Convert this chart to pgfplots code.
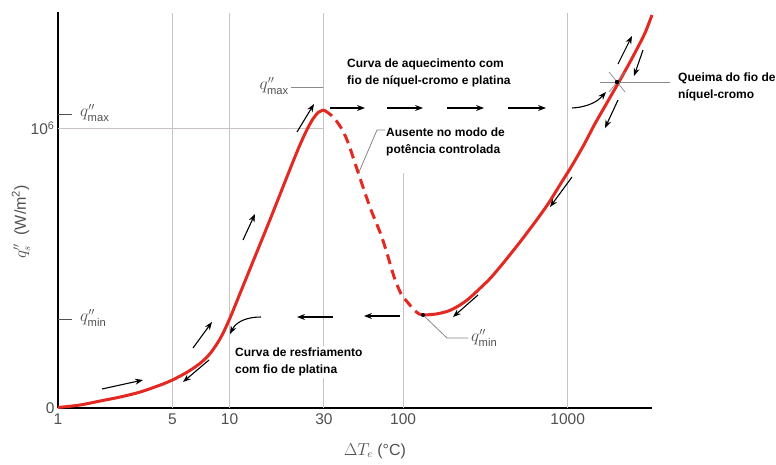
\documentclass[border=0pt]{standalone}
\usepackage{amsmath}
\usepackage{fontspec}
\setmainfont{Liberation Sans}
\usepackage{pgfplots}
\pgfplotsset{compat=1.18}
\usetikzlibrary{arrows.meta}
\definecolor{curvered}{RGB}{226,42,34}
\definecolor{gridgray}{RGB}{200,194,194}
\definecolor{labgray}{RGB}{80,80,80}
\begin{document}
\begin{tikzpicture}
\useasboundingbox (0,0) rectangle (776pt,-465pt);
\begin{axis}[
  at={(58pt,-408pt)}, anchor=south west,
  scale only axis, width=594pt, height=396pt,
  x coord trafo/.code={%
    \begingroup
    \pgfkeys{/pgf/fpu=true,/pgf/fpu/output format=fixed}%
    \pgfmathparse{ln(#1)/ln(10)}%
    \let\LL\pgfmathresult
    \pgfmathparse{\LL<0.69897 ? \LL*163.097 : (\LL<1 ? 114+(\LL-0.69897)*189.35 : (\LL<1.47712 ? 171+(\LL-1)*197.02 : (\LL<2 ? 265+(\LL-1.47712)*151.09 : 344+(\LL-2)*164)))}%
    \xdef\mytrafo{\pgfmathresult}%
    \endgroup
    \let\pgfmathresult\mytrafo
  },
  xmin=1, xmax=3252, ymin=0, ymax=396,
  axis x line*=bottom, axis y line*=left,
  axis line style={line width=1.8pt, black},
  xtick={1,5,10,30,100,1000}, xticklabels={1,5,10,30,100,1000},
  ytick={0,280}, yticklabels={0,10\textsuperscript{6}},
  major tick length=0pt,
  tick label style={font=\fontsize{15.5}{18}\selectfont, text=labgray},
  xticklabel style={yshift=-2pt},
  clip=false,
]
\draw[gridgray, line width=0.9pt] (axis cs:5,0) -- (axis cs:5,395);
\draw[gridgray, line width=0.9pt] (axis cs:10,0) -- (axis cs:10,395);
\draw[gridgray, line width=0.9pt] (axis cs:30,0) -- (axis cs:30,395);
\draw[gridgray, line width=0.9pt] (axis cs:100,0) -- (axis cs:100,235);
\draw[gridgray, line width=0.9pt] (axis cs:1000,0) -- (axis cs:1000,395);
\draw[gridgray, line width=0.9pt] (axis cs:1,280) -- (axis cs:30,280);
\addplot[curvered, line width=3pt, smooth] coordinates {
(1,0.5) (1.364,3) (1.809,7) (2.400,11) (3.183,16) (4.221,23) (5,28) (6.00,36) (7.03,45) (7.94,55) (8.96,70) (10,89) (11.37,116) (13.55,153) (16.14,190) (19.23,228) (22.13,258) (24.30,276) (26.38,289) (28.29,296) (30,298)
};
\addplot[curvered, line width=3pt, smooth, dash pattern=on 10pt off 6pt] coordinates {
(30,298) (33.38,293) (37.13,285) (40.69,275) (43.90,263) (47.37,248) (51.12,233) (55.18,218) (61.39,198) (71.51,173) (79.56,151) (87.18,131) (96.98,114) (107.3,105) (116.7,98) (125.2,94) (134.3,93)
};
\addplot[curvered, line width=3pt, smooth] coordinates {
(134.3,93) (158.9,94) (188.2,97) (216.5,102) (249.1,109) (298.9,121) (344.1,131) (424.8,149) (524.3,168) (647.1,188) (765.9,205) (919.5,226) (1058,242) (1252,263) (1461,284) (1729,305) (2046,326) (2355,344) (2634,359) (2948,375) (3253,393)
};
\end{axis}
\begin{scope}[x=1pt,y=-1pt]
% y-level ticks inside
\draw[labgray, line width=0.8pt] (58,114) -- (72,114);
\draw[labgray, line width=0.8pt] (58,319) -- (72,319);
\node[anchor=west, text=labgray, font=\fontsize{16}{18}\selectfont, inner sep=0pt] at (80,113) {$q''_{\text{max}}$};
\node[anchor=west, text=labgray, font=\fontsize{16}{18}\selectfont, inner sep=0pt] at (80,318) {$q''_{\text{min}}$};
% axis titles
\node[rotate=90, text=labgray, font=\fontsize{16}{18}\selectfont] at (21,222) {$q''_s$\ \ (W/m\textsuperscript{2})};
\node[text=labgray, font=\fontsize{16}{18}\selectfont] at (375,451) {$\Delta T_e$ (°C)};
% q''max label and leader
\draw[gridgray!70!black, line width=0.8pt] (291,87) -- (323,87);
\node[anchor=east, text=labgray, font=\fontsize{16}{18}\selectfont, inner sep=1pt] at (290,86) {$q''_{\text{max}}$};
% q''min point and leader
\draw[gridgray!70!black, line width=0.8pt] (423,315) -- (447,338) -- (468,338);
\fill[black] (423,315) circle (2pt);
\node[anchor=west, text=labgray, font=\fontsize{16}{18}\selectfont, inner sep=1pt] at (470,338) {$q''_{\text{min}}$};
% Ausente leader
\draw[gridgray!70!black, line width=0.8pt] (359,172) -- (377,130) -- (385,130);
% burnout
\draw[gridgray!70!black, line width=0.7pt] (600,82) -- (670,82);
\draw[gridgray!70!black, line width=0.7pt] (609,72) -- (625,92);
\draw[gridgray!70!black, line width=0.7pt] (609,92) -- (625,72);
\fill[black] (617,82) circle (2.2pt);
% texts
\node[anchor=west, align=left, font=\bfseries\fontsize{12}{17}\selectfont, inner sep=1pt] at (346,73) {Curva de aquecimento com\\fio de níquel-cromo e platina};
\node[anchor=west, align=left, font=\bfseries\fontsize{12}{17}\selectfont, inner sep=1pt] at (385,142) {Ausente no modo de\\potência controlada};
\node[anchor=west, align=left, font=\bfseries\fontsize{12}{17}\selectfont, fill=white, inner sep=2pt] at (233,362) {Curva de resfriamento\\com fio de platina};
\node[anchor=west, align=left, font=\bfseries\fontsize{12}{17}\selectfont, inner sep=1pt] at (677,87) {Queima do fio de\\níquel-cromo};
% arrows
\begin{scope}[black, line width=1.1pt, -{Stealth[length=8pt,width=6pt]}]
\draw (102,389) -- (143,380);
\draw (193,348) -- (212,322);
\draw (209,360) -- (183,382);
\draw (243,240) -- (255,214);
\draw (297,132) -- (314,104);
\draw (330,108) -- (365,108);
\draw (387,108) -- (423,108);
\draw (447,108) -- (484,108);
\draw (508,108) -- (546,108);
\draw (572,108) .. controls (589,107) and (598,101) .. (606,92);
\draw (618,64) -- (632,36);
\draw (643,50) -- (634,76);
\draw (618,100) -- (605,128);
\draw (572,177) -- (550,207);
\draw (478,295) -- (453,317);
\draw (400,316) -- (364,316);
\draw (333,317) -- (297,317);
\draw (261,317) .. controls (246,317) and (236,322) .. (230,334);
\end{scope}
\end{scope}
\end{tikzpicture}
\end{document}
